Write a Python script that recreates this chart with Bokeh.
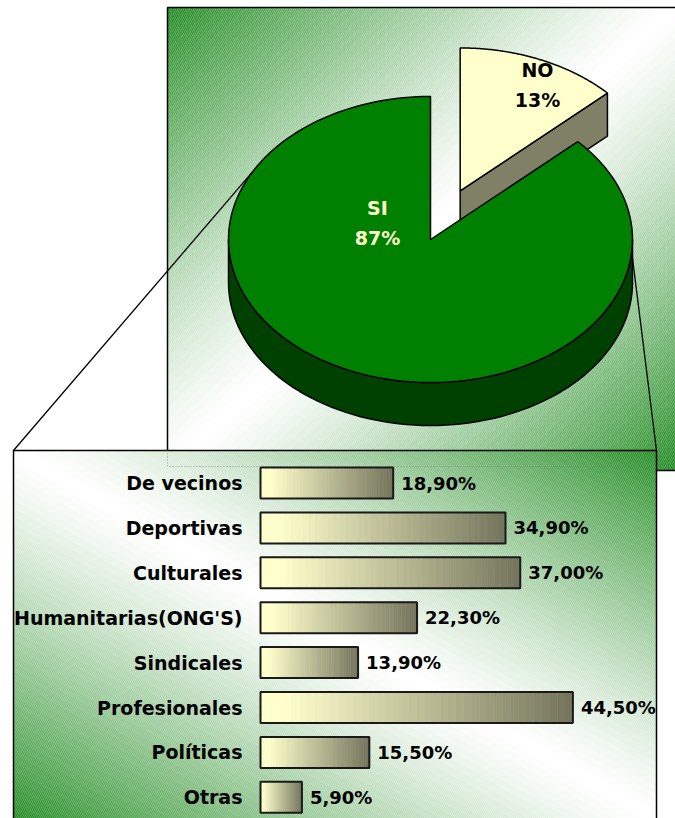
import math
from bokeh.plotting import figure
from bokeh.models import Range1d
from bokeh.core.properties import value
from bokeh.embed import file_html
from bokeh.resources import INLINE

# ---------------- data ----------------
pie_labels = ["NO", "SI"]
pie_values = [13, 87]
pie_explode = [0.37, 0.0]

categories = ["De vecinos", "Deportivas", "Culturales", "Humanitarias(ONG'S)",
              "Sindicales", "Profesionales", "Políticas", "Otras"]
percentages = [18.9, 34.9, 37.0, 22.3, 13.9, 44.5, 15.5, 5.9]

# ---------------- layout / style ----------------
W, H = 675, 818
FONT = value("DejaVu Sans")
GREEN = (34, 139, 34)
WHITE = (255, 255, 255)

PIE_PANEL = (167.0, 7.0, 690.0, 470.0)     # x0, y0, x1, y1 (page px, y down)
BAR_PANEL = (13.0, 450.0, 656.0, 818.0)

CX, CY, RX, RY, DEPTH = 430.0, 239.0, 202.0, 143.0, 43.0
TOP_COLORS = {"NO": "#ffffcc", "SI": "#008000"}
SIDE_COLORS = {"NO": "#808066", "SI": "#004000"}

BAR_X0, PX_PER_PCT = 260.0, 7.02
ROW_Y0, ROW_DY = 482.5, 44.9
BAR_H = 0.69

p = figure(width=W, height=H, output_backend="svg", toolbar_location=None,
           x_range=Range1d(0, W), y_range=Range1d(H, 0),
           x_axis_location=None, y_axis_location=None, min_border=0)
p.grid.visible = False
p.outline_line_color = None
p.background_fill_color = "white"
p.border_fill_color = "white"

p.extra_x_ranges = {"pct": Range1d(start=(0 - BAR_X0) / PX_PER_PCT,
                                   end=(W - BAR_X0) / PX_PER_PCT)}
p.extra_y_ranges = {"row": Range1d(start=(H - ROW_Y0) / ROW_DY,
                                   end=(0 - ROW_Y0) / ROW_DY)}


def hexc(c):
    return "#%02x%02x%02x" % tuple(int(round(v)) for v in c)


def mix(c1, c2, w):
    return tuple(a * (1 - w) + b * w for a, b in zip(c1, c2))


def clip(poly, a, b, c):
    out = []
    n = len(poly)
    for i in range(n):
        P, Q = poly[i], poly[(i + 1) % n]
        fp = a * P[0] + b * P[1] + c
        fq = a * Q[0] + b * Q[1] + c
        if fp >= 0:
            out.append(P)
        if (fp >= 0) != (fq >= 0):
            t = fp / (fp - fq)
            out.append((P[0] + t * (Q[0] - P[0]), P[1] + t * (Q[1] - P[1])))
    return out


def gradient_panel(rect, ax, by, c0, hatch, n=90, power=1.25):
    x0, y0, x1, y1 = rect
    base = [(x0, y0), (x1, y0), (x1, y1), (x0, y1)]
    xs, ys, cols = [], [], []
    for k in range(n):
        a, b = k / n, (k + 1) / n
        poly = clip(base, ax, by, c0 - a)
        poly = clip(poly, -ax, -by, b - c0)
        if len(poly) < 3:
            continue
        s = (a + b) / 2
        w = abs(2 * s - 1) ** power
        xs.append([q[0] for q in poly])
        ys.append([q[1] for q in poly])
        cols.append(hexc(mix(WHITE, GREEN, w)))
    p.patches(xs, ys, fill_color=cols, line_color=cols, line_width=1)
    p.patch([x0, x1, x1, x0], [y0, y0, y1, y1], fill_color=None, line_color=None,
            hatch_pattern=hatch, hatch_color="white", hatch_alpha=0.2,
            hatch_scale=4, hatch_weight=1)


# ---------------- pie panel background ----------------
x0, y0, x1, y1 = PIE_PANEL
pw, ph = 675.0 - x0, y1 - y0
gradient_panel(PIE_PANEL, 0.5 / pw, 0.5 / ph, -0.5 * (x0 / pw + y0 / ph),
               "right_diagonal_line")
p.line([x0, x0, 700], [y1, y0, y0], line_color="black", line_width=1.5)
p.line([656, 700], [y1, y1], line_color="black", line_width=1.5)


# ---------------- pie ----------------
def rim(cx, cy, t):
    r = math.radians(t)
    return (cx + RX * math.cos(r), cy - RY * math.sin(r))


total = float(sum(pie_values))
slices = []
ang = 90.0
for lab, v, ex in zip(pie_labels, pie_values, pie_explode):
    span = 360.0 * v / total
    t_start, t_end = ang, ang - span
    mid = math.radians((t_start + t_end) / 2)
    cx = CX + ex * RX * math.cos(mid)
    cy = CY - ex * RY * math.sin(mid)
    slices.append((lab, v, t_start, t_end, cx, cy))
    ang = t_end


def arc_pts(cx, cy, a, b, dy=0.0, n=80):
    pts = []
    for i in range(n + 1):
        t = a + (b - a) * i / n
        x, y = rim(cx, cy, t)
        pts.append((x, y + dy))
    return pts


# side faces first
for lab, v, ts, te, cx, cy in slices:
    col = SIDE_COLORS[lab]
    for theta, vis in ((ts, math.cos(math.radians(ts)) < -1e-6),
                       (te, math.cos(math.radians(te)) > 1e-6)):
        if vis:
            rx_, ry_ = rim(cx, cy, theta)
            p.patch([cx, rx_, rx_, cx], [cy, ry_, ry_ + DEPTH, cy + DEPTH],
                    fill_color=col, line_color="black", line_width=1.5)
    for k in (-1, 0, 1):
        lo, hi = max(te, 180 + 360 * k), min(ts, 360 + 360 * k)
        if hi > lo:
            top = arc_pts(cx, cy, lo, hi)
            bot = arc_pts(cx, cy, hi, lo, DEPTH)
            pts = top + bot
            p.patch([q[0] for q in pts], [q[1] for q in pts],
                    fill_color=col, line_color="black", line_width=1.5)

# connector lines
lx, ly = rim(CX, CY, 151.8)
rx2, ry2 = rim(CX, CY, -5.0)
p.line([lx, BAR_PANEL[0]], [ly, BAR_PANEL[1]], line_color="black", line_width=1.3)
p.line([rx2, BAR_PANEL[2]], [ry2, BAR_PANEL[1]], line_color="black", line_width=1.3)

# top faces
for lab, v, ts, te, cx, cy in slices:
    pts = [(cx, cy)] + arc_pts(cx, cy, te, ts, 0.0, 160)
    p.patch([q[0] for q in pts], [q[1] for q in pts],
            fill_color=TOP_COLORS[lab], line_color="black", line_width=1.5)

# pie labels
label_pos = {"SI": (377.0, 207.0, "#ffffcc"), "NO": (537.0, 69.0, "black")}
for lab, v, ts, te, cx, cy in slices:
    lxp, lyp, col = label_pos[lab]
    p.text([lxp, lxp], [lyp, lyp + 30], text=[lab, f"{v}%"], text_align="center",
           text_baseline="middle", text_font=FONT, text_font_style="bold",
           text_font_size="19px", text_color=col)

# ---------------- bar panel ----------------
bx0, by0, bx1, by1 = BAR_PANEL
bw, bh = bx1 - bx0, by1 - by0
gradient_panel(BAR_PANEL, 0.5 / bw, -0.5 / bh, 0.5 * (-bx0 / bw + by1 / bh),
               "left_diagonal_line")
p.line([bx0, bx0, bx1, bx1], [830, by0, by0, 830], line_color="black", line_width=1.5)
p.line([PIE_PANEL[0], PIE_PANEL[0], bx1], [by0, 466, 466], line_color="#777777",
       line_width=1, line_dash="1 2", line_alpha=0.7)

# bars with horizontal gradient
LIGHT = (255, 255, 204)
DARK = (116, 116, 92)
NSEG = 40
rows = list(range(len(categories)))
for i, v in zip(rows, percentages):
    for k in range(NSEG):
        f = (k + 0.5) / NSEG
        g = max(0.0, (f - 0.08) / 0.92)
        c = hexc(mix(LIGHT, DARK, g))
        p.hbar(y=[i], left=[v * k / NSEG], right=[v * (k + 1) / NSEG], height=BAR_H,
               fill_color=c, line_color=c, line_width=0.6,
               x_range_name="pct", y_range_name="row")
p.hbar(y=rows, left=[0] * len(rows), right=percentages, height=BAR_H,
       fill_color=None, line_color="#1a1a1a", line_width=2,
       x_range_name="pct", y_range_name="row")

p.text(x=[0] * len(rows), y=rows, text=categories, x_offset=-18,
       text_align="right", text_baseline="middle", text_font=FONT,
       text_font_style="bold", text_font_size="19px", text_color="black",
       x_range_name="pct", y_range_name="row")
p.text(x=percentages, y=rows, text=[f"{v:.2f}%".replace(".", ",") for v in percentages],
       x_offset=8, text_align="left", text_baseline="middle", text_font=FONT,
       text_font_style="bold", text_font_size="18px", text_color="black",
       x_range_name="pct", y_range_name="row")

open("out.html", "w").write(file_html(p, INLINE))
